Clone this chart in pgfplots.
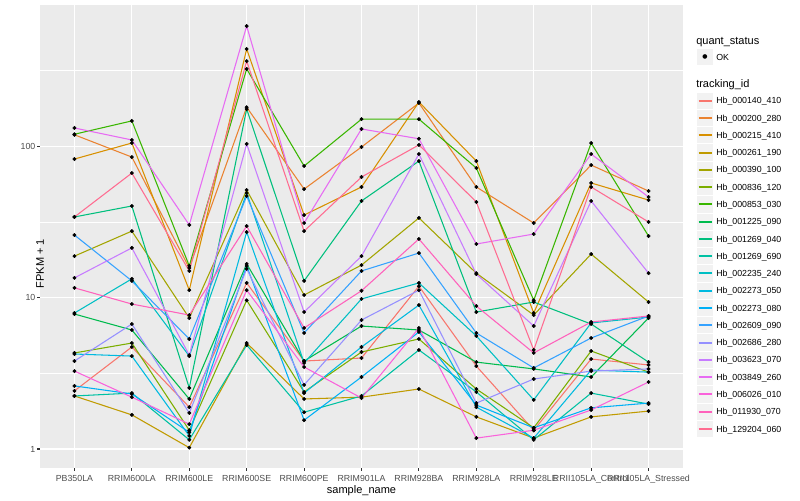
\documentclass[border=0pt]{standalone}
\usepackage{pgfplots}
\pgfplotsset{compat=1.18}
\usepackage{pgfplotstable}
\usepackage{fontspec}
\setmainfont{Liberation Sans}
\newfontfamily\symfont{DejaVu Sans}

\definecolor{c1}{HTML}{F8766D}
\definecolor{c2}{HTML}{EA8331}
\definecolor{c3}{HTML}{D89000}
\definecolor{c4}{HTML}{C09B00}
\definecolor{c5}{HTML}{A3A500}
\definecolor{c6}{HTML}{7CAE00}
\definecolor{c7}{HTML}{39B600}
\definecolor{c8}{HTML}{00BB4E}
\definecolor{c9}{HTML}{00BF7D}
\definecolor{c10}{HTML}{00C1A3}
\definecolor{c11}{HTML}{00BFC4}
\definecolor{c12}{HTML}{00BAE0}
\definecolor{c13}{HTML}{00B0F6}
\definecolor{c14}{HTML}{35A2FF}
\definecolor{c15}{HTML}{9590FF}
\definecolor{c16}{HTML}{C77CFF}
\definecolor{c17}{HTML}{E76BF3}
\definecolor{c18}{HTML}{FA62DB}
\definecolor{c19}{HTML}{FF62BC}
\definecolor{c20}{HTML}{FF6C91}
\definecolor{panelgray}{HTML}{EBEBEB}
\definecolor{keygray}{HTML}{F2F2F2}
\definecolor{gray20}{HTML}{333333}
\definecolor{gray30}{HTML}{4D4D4D}

% FPKM + 1, one row per sample, one column per tracking_id
\pgfplotstableread{
x  s1    s2    s3    s4    s5    s6    s7    s8    s9    s10   s11   s12   s13   s14   s15   s16   s17   s18   s19   s20
0  2.42  119   82.3  2.24  18.8  4.31  120   7.79  34.1  2.24  7.91  4.24  2.61  25.9  3.81  13.5  132   3.27  11.6  34.1
1  4.72  84.8  105   1.68  27.5  5.01  147   6.11  40.3  2.34  13.3  4.11  2.31  12.9  6.69  21.3  110   2.20  9.07  66.5
2  1.89  15.7  11.2  1.02  7.33  1.33  16.2  2.14  2.53  1.15  4.11  1.22  1.29  5.33  1.73  4.17  30.2  1.46  7.67  15.0
3  12.5  181   439   5.01  51.4  9.6   324   16.7  176   4.86  49.1  27.1  16.2  46.9  15.5  103.5 622   11.2  29.7  365
4  3.81  52.1  35.1  2.14  10.4  2.38  74.0  3.81  12.9  1.75  3.70  2.34  1.55  5.84  2.65  8.03  31.1  3.48  6.30  27.5
5  3.99  98.8  53.8  2.20  16.4  4.37  151   6.49  43.5  2.24  9.80  4.72  2.99  15.0  7.11  18.8  130   2.17  11.1  62.6
6  11.9  193   196   2.49  33.6  5.33  151   6.11  79.8  4.51  12.5  8.93  5.93  19.7  11.2  88.8  112   6.30  24.4  102
7  3.53  53.8  79.8  1.63  14.5  2.49  71.8  3.75  8.03  2.38  5.58  1.89  1.95  5.84  2.01  14.3  22.6  1.18  8.80  42.8
8  1.33  31.1  7.91  1.18  7.67  1.38  9.6   3.38  9.35  1.15  2.11  1.18  1.38  3.43  2.90  6.49  26.3  1.33  4.31  4.51
9  3.93  75.1  57.2  1.63  19.4  4.44  105   2.99  6.69  2.34  6.80  3.32  1.87  5.41  3.27  43.5  88.8  1.81  6.90  53.8
10 3.59  50.6  44.1  1.78  9.35  3.22  25.5  7.33  3.75  1.98  7.44  3.22  2.01  7.56  3.38  14.5  46.2  2.77  7.56  31.6
}\fpkm

\begin{document}
\begin{tikzpicture}
% image pixel frame: 1px = 0.75pt, origin at top left, panel SW at (40,468)
\begin{scope}[x=0.75pt,y=-0.75pt,shift={(-30pt,351pt)}]
  \useasboundingbox (0,0) rectangle (800,500);
\end{scope}

\begin{axis}[
  at={(0,0)}, anchor=south west,
  scale only axis, width=482.25pt, height=347.25pt,
  ymode=log, ymin=0.749, ymax=857,
  xmin=-0.6, xmax=10.6,
  axis background/.style={fill=panelgray},
  axis line style={draw=none},
  xtick={0,...,10},
  xticklabels={PB350LA,RRIM600LA,RRIM600LE,RRIM600SE,RRIM600PE,RRIM901LA,RRIM928BA,RRIM928LA,RRIM928LE,RRII105LA\_Control,RRII105LA\_Stressed},
  ytick={1,10,100}, yticklabels={1,10,100},
  minor ytick={3.16228,31.6228,316.228},
  xmajorgrids, ymajorgrids, yminorgrids,
  major grid style={white, line width=0.8pt},
  minor grid style={white, line width=0.4pt},
  tick align=outside, xtick pos=bottom, ytick pos=left,
  major tick length=2.06pt, minor tick length=0pt,
  tick style={color=gray20, line width=0.8pt},
  tick label style={font=\fontsize{6.6}{7.9}\selectfont, text=gray30, inner sep=0pt},
  xticklabel style={anchor=north, yshift=-3.2pt},
  yticklabel style={anchor=east, xshift=-1.2pt},
  xlabel={sample\_name}, ylabel={FPKM + 1},
  label style={font=\fontsize{8.25}{9.9}\selectfont, inner sep=0pt},
  xlabel style={at={(axis description cs:0.5,0)}, anchor=center, yshift=-17.25pt},
  ylabel style={at={(axis description cs:0,0.5)}, anchor=center, xshift=-20.25pt},
]
  \pgfplotsinvokeforeach{1,...,20}{
    \addplot[color=c#1, line width=0.8pt, mark=none] table[x=x, y=s#1] {\fpkm};
  }
  \pgfplotsinvokeforeach{1,...,20}{
    \addplot[only marks, mark=*, mark size=1.25pt, black] table[x=x, y=s#1] {\fpkm};
  }
\end{axis}

% legends, in image pixel frame
\begin{scope}[x=0.75pt,y=-0.75pt,shift={(-30pt,351pt)}]
  \node[anchor=base west, inner sep=0pt, font=\fontsize{8.25}{9.9}\selectfont] at (696,44.2) {quant\_status};
  \draw[white, line width=0.75pt, fill=keygray] (696.4,48.4) rectangle (713.6,65.6);
  \node[inner sep=0pt, font=\symfont\fontsize{4.5}{5}\selectfont] at (705,57) {●};
  \node[anchor=base west, inner sep=0pt, font=\fontsize{6.6}{7.9}\selectfont] at (716,60.1) {OK};
  \node[anchor=base west, inner sep=0pt, font=\fontsize{8.25}{9.9}\selectfont] at (696,87.5) {tracking\_id};
  \foreach \c/\nm [count=\i from 0] in {
      c1/Hb\_000140\_410, c2/Hb\_000200\_280, c3/Hb\_000215\_410, c4/Hb\_000261\_190,
      c5/Hb\_000390\_100, c6/Hb\_000836\_120, c7/Hb\_000853\_030, c8/Hb\_001225\_090,
      c9/Hb\_001269\_040, c10/Hb\_001269\_690, c11/Hb\_002235\_240, c12/Hb\_002273\_050,
      c13/Hb\_002273\_080, c14/Hb\_002609\_090, c15/Hb\_002686\_280, c16/Hb\_003623\_070,
      c17/Hb\_003849\_260, c18/Hb\_006026\_010, c19/Hb\_011930\_070, c20/Hb\_129204\_060} {
    \pgfmathsetmacro\yy{100.7+17.28*\i}
    \pgfmathsetmacro\yl{round(\yy)}
    \draw[white, line width=0.75pt, fill=keygray] (696.4,{\yy-8.64}) rectangle (713.6,{\yy+8.64});
    \draw[\c, line width=1.5pt] (698.7,\yl) -- (712.3,\yl);
    \node[anchor=base west, inner sep=0pt, font=\fontsize{6.6}{7.9}\selectfont] at (716,{\yy+3.1}) {\nm};
  }
\end{scope}
\end{tikzpicture}
\end{document}
